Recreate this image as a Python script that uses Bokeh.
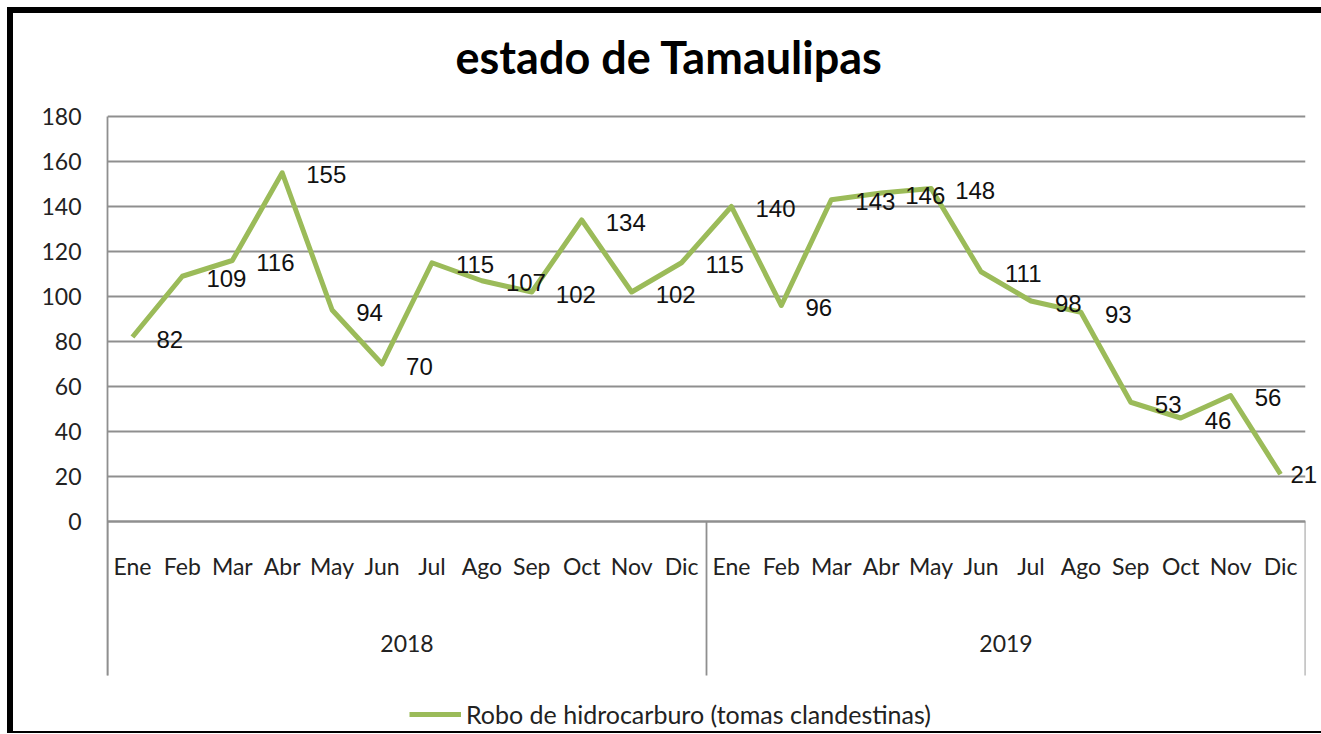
from bokeh.plotting import figure
from bokeh.models import (FactorRange, Range1d, CategoricalAxis, LinearAxis, FixedTicker,
                          ColumnDataSource, LabelSet, Legend, LegendItem, Title)
from bokeh.embed import file_html
from bokeh.resources import INLINE
from bokeh.core.properties import value

# ---------------- data ----------------
title_text = "estado de Tamaulipas"
series_name = "Robo de hidrocarburo (tomas clandestinas)"
years = ["2018", "2019"]
months = ["Ene", "Feb", "Mar", "Abr", "May", "Jun", "Jul", "Ago", "Sep", "Oct", "Nov", "Dic"]
values_2018 = [82, 109, 116, 155, 94, 70, 115, 107, 102, 134, 102, 115]
values_2019 = [140, 96, 143, 146, 148, 111, 98, 93, 53, 46, 56, 21]
y_ticks = [0, 20, 40, 60, 80, 100, 120, 140, 160, 180]

# ---------------- build ----------------
factors = [(yr, m) for yr in years for m in months]
vals = values_2018 + values_2019
src = ColumnDataSource(dict(x=factors, y=vals))
# data labels; the last one sits past the plot edge (cut off in the original) and is drawn by a right axis
lab_src = ColumnDataSource(dict(x=factors[:-1], y=vals[:-1], label=[str(v) for v in vals[:-1]]))

GRID = "#8f8f8f"
GW = 1.8
LINE = "#9BBB59"
TXT = "#222222"
CAL = "Lato"
LBL_FONT = "Liberation Sans"
CAT_BOTTOM = -68.44      # lower edge of the category-label band, in value units
Y_BOTTOM = -93.33        # plot area reaches down to the legend

x_range = FactorRange(*factors, factor_padding=0, group_padding=0, subgroup_padding=0, range_padding=0)
y_range = Range1d(Y_BOTTOM, 180.89)

p = figure(x_range=x_range, y_range=y_range, width=1308, height=718,
           output_backend="svg", toolbar_location=None,
           x_axis_location=None, y_axis_location=None,
           min_border_left=94, min_border_right=16, min_border_top=101, min_border_bottom=0)
p.margin = (13, 0, 0, 13)
p.styles = {"box-shadow": "-6px 0 0 0 #000, 0 -6px 0 0 #000, -6px -6px 0 0 #000, "
                          "0 2px 0 0 #000, -6px 2px 0 0 #000"}
p.outline_line_color = None
p.background_fill_color = "white"
p.border_fill_color = "white"

# title (with a blank spacer title between it and the plot area)
p.title.text = ""
p.title.visible = False
p.title.standoff = 0
p.add_layout(Title(text=" ", text_font_size="10px", standoff=18), "above")
p.add_layout(Title(text=title_text, text_font=CAL, text_font_style="bold", text_font_size="45px",
                   text_color="#000000", align="left", offset=348, standoff=0), "above")

# grids
p.xgrid.grid_line_color = None
p.ygrid.ticker = FixedTicker(ticks=y_ticks)
p.ygrid.grid_line_color = GRID
p.ygrid.grid_line_width = GW

# y axis (its line runs down through the category band)
yaxis = LinearAxis(ticker=FixedTicker(ticks=y_ticks), bounds=(CAT_BOTTOM, 180),
                   axis_line_color=GRID, axis_line_width=GW,
                   major_tick_line_color=None, minor_tick_line_color=None,
                   major_tick_in=0, major_tick_out=0,
                   major_label_standoff=26, major_label_text_font=CAL,
                   major_label_text_font_size="23px", major_label_text_color=TXT)
p.add_layout(yaxis, "left")

# month axis at value 0 (group level hidden; years drawn by their own axis)
xaxis = CategoricalAxis(fixed_location=0, axis_line_color=GRID, axis_line_width=GW,
                        major_tick_line_color=None, minor_tick_line_color=None,
                        major_tick_in=0, major_tick_out=0,
                        major_label_standoff=30, major_label_text_font=CAL,
                        major_label_text_font_size="23px", major_label_text_color=TXT,
                        group_text_color=None, group_text_font_size="1px",
                        separator_line_color=None)
p.add_layout(xaxis, "below")

# year axis
p.extra_x_ranges = {"years": FactorRange(*years, factor_padding=0, range_padding=0)}
yearaxis = CategoricalAxis(x_range_name="years", fixed_location=0, axis_line_color=None,
                           major_tick_line_color=None, minor_tick_line_color=None,
                           major_tick_in=0, major_tick_out=0,
                           major_label_standoff=113, major_label_text_font=CAL,
                           major_label_text_font_size="23px", major_label_text_color=TXT)
p.add_layout(yearaxis, "below")

# group separators (year boundaries), in the factor range's own coordinates
bounds = [0]
for _ in years:
    bounds.append(bounds[-1] + len(months))
p.segment(x0=bounds, y0=[0] * len(bounds), x1=bounds, y1=[CAT_BOTTOM] * len(bounds),
          line_color=GRID, line_width=GW)

# series
r = p.line(x="x", y="y", source=src, line_color=LINE, line_width=5, line_join="round")

labels = LabelSet(x="x", y="y", text="label", source=lab_src, x_offset=24, y_offset=-2,
                  text_align="left", text_baseline="middle",
                  text_font=value(LBL_FONT), text_font_size="24px", text_color="#111111")
p.add_layout(labels)

# last data label (beyond the plot's right edge)
lastaxis = LinearAxis(ticker=FixedTicker(ticks=[vals[-1]]), axis_line_color=None,
                      major_tick_line_color=None, minor_tick_line_color=None,
                      major_tick_in=0, major_tick_out=0, major_label_standoff=-15,
                      major_label_text_font=LBL_FONT, major_label_text_font_size="24px",
                      major_label_text_color="#111111")
p.add_layout(lastaxis, "right")

legend = Legend(items=[LegendItem(label=series_name, renderers=[r])],
                location=(302, 2), orientation="horizontal", margin=0, padding=4,
                border_line_color=None, background_fill_alpha=0,
                glyph_width=52, glyph_height=20, label_standoff=5,
                label_text_font=CAL, label_text_font_size="25px", label_text_color=TXT)
p.add_layout(legend, "center")

open("out.html", "w").write(file_html(p, INLINE))
